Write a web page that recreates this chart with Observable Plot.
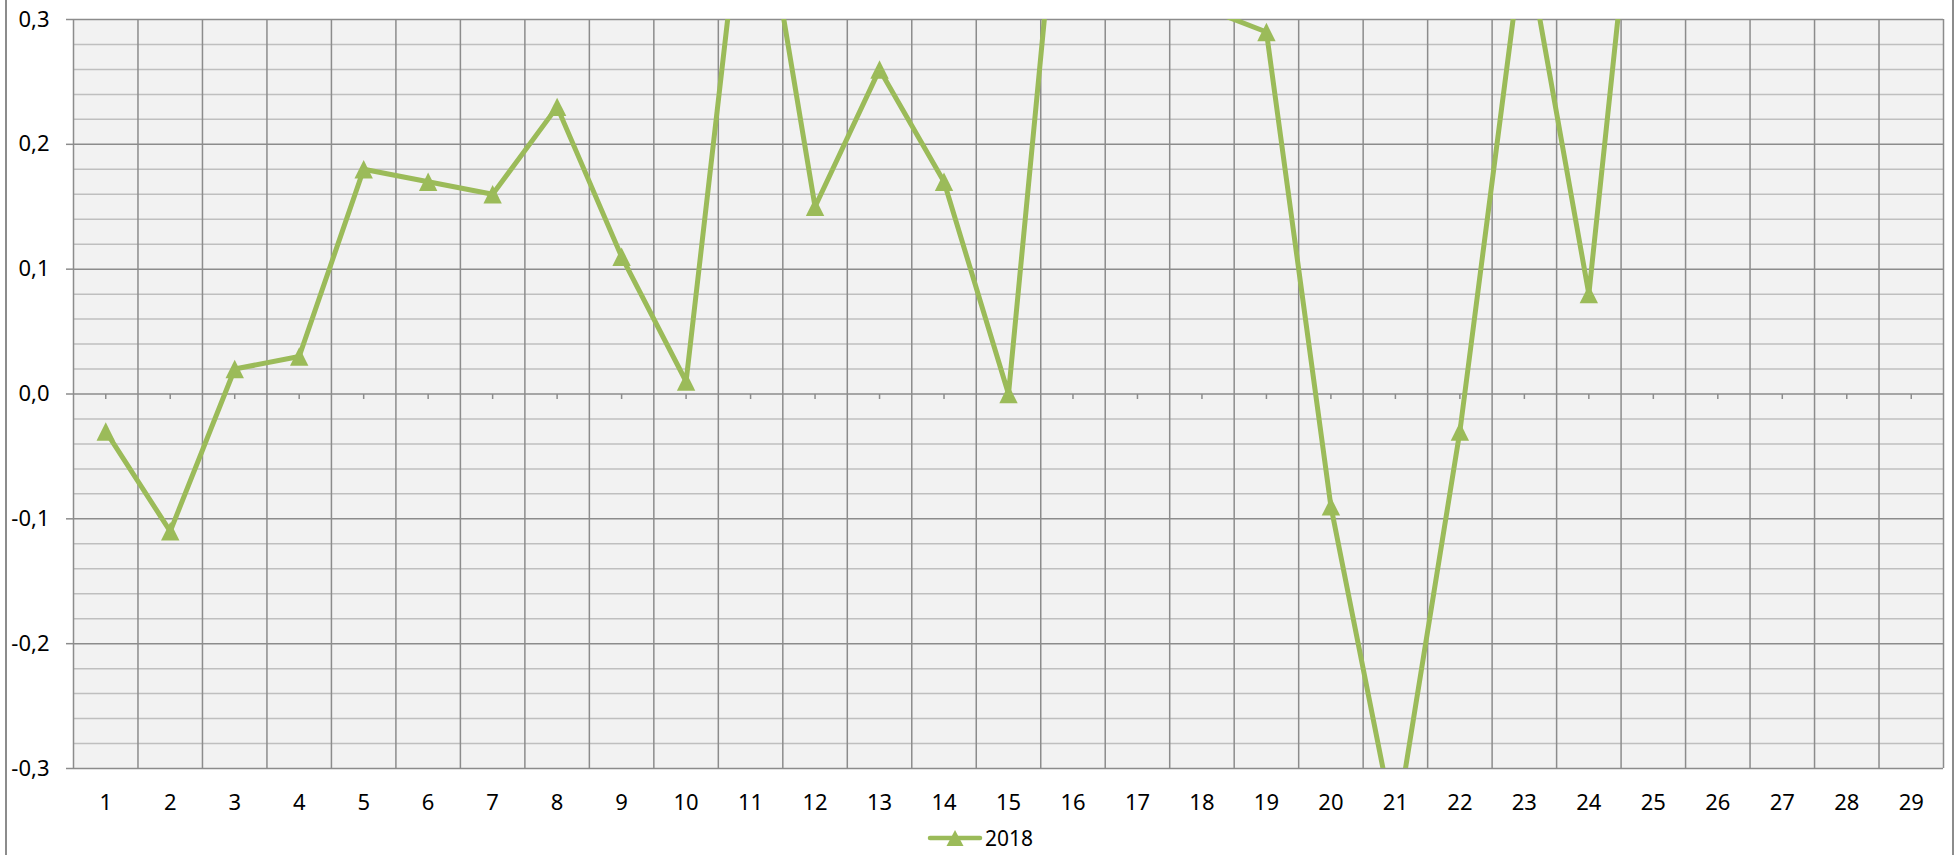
<!DOCTYPE html>
<html>
<head>
<meta charset="utf-8">
<script src="https://cdn.jsdelivr.net/npm/d3@7"></script>
<script src="https://cdn.jsdelivr.net/npm/@observablehq/plot@0.6"></script>
<style>
  html, body { margin: 0; padding: 0; background: #fff; }
  #wrap { position: relative; width: 1956px; height: 855px; overflow: hidden; font-family: "Noto Sans", sans-serif; }
  #chart { position: absolute; left: 0; top: 0; }
  .border { position: absolute; top: 0; width: 2px; height: 855px; background: #8c8c8c; }
  #legend { position: absolute; left: 0; top: 827px; width: 1956px; height: 22px; }
  #legend .item { position: absolute; left: 927px; top: 0; display: flex; align-items: center; height: 22px; }
  #legend span { font-size: 21px; color: #000; margin-left: 2px; line-height: 22px; }
</style>
</head>
<body>
<div id="wrap">
  <div id="chart"></div>
  <div class="border" style="left:5px"></div>
  <div class="border" style="left:1952px"></div>
  <div id="legend"></div>
</div>
<script>
// Categories (x axis) and series values
const categories = [1,2,3,4,5,6,7,8,9,10,11,12,13,14,15,16,17,18,19,20,21,22,23,24,25,26,27,28,29];
const values2018 = [-0.03,-0.11,0.02,0.03,0.18,0.17,0.16,0.23,0.11,0.01,0.46,0.15,0.26,0.17,0.00,0.54,0.45,0.31,0.29,-0.09,-0.35,-0.03,0.37,0.08,0.57,null,null,null,null];
const seriesName = "2018";
const yTicks = [-0.3,-0.2,-0.1,0,0.1,0.2,0.3];
const yMinorTicks = [-0.28,-0.26,-0.24,-0.22,-0.18,-0.16,-0.14,-0.12,-0.08,-0.06,-0.04,-0.02,0.02,0.04,0.06,0.08,0.12,0.14,0.16,0.18,0.22,0.24,0.26,0.28];
const categoryBounds = [0.5,1.5,2.5,3.5,4.5,5.5,6.5,7.5,8.5,9.5,10.5,11.5,12.5,13.5,14.5,15.5,16.5,17.5,18.5,19.5,20.5,21.5,22.5,23.5,24.5,25.5,26.5,27.5,28.5,29.5];

const green = "#9bbb59";
const data = categories.map((c, i) => ({day: c, value: values2018[i]}));
const pts = data.filter(d => d.value != null);
const fmt = d => d.toFixed(1).replace(".", ",");

// Isosceles triangle (as wide as tall), centred on its bounding box
const excelTriangle = {
  draw(context, size) {
    const h = Math.sqrt(size / Math.PI);
    context.moveTo(0, -h);
    context.lineTo(h, h);
    context.lineTo(-h, h);
    context.closePath();
  }
};
// small downward tick mark drawn at each category on the zero line
const tickDown = {
  draw(context) {
    context.moveTo(0, 0);
    context.lineTo(0, 5);
  }
};

const chart = Plot.plot({
  width: 1956,
  height: 820,
  marginTop: 19,
  marginBottom: 52,
  marginLeft: 73,
  marginRight: 13,
  style: {fontFamily: "Noto Sans, sans-serif", fontSize: "22px", color: "#000", background: "transparent"},
  x: {type: "linear", domain: [0.5, 29.5]},
  y: {domain: [-0.3, 0.3]},
  marks: [
    Plot.frame({fill: "#f2f2f2", stroke: null}),
    Plot.gridY(yMinorTicks, {stroke: "#bfbfbf", strokeOpacity: 1, strokeWidth: 1.5}),
    Plot.gridY(yTicks, {stroke: "#8c8c8c", strokeOpacity: 1, strokeWidth: 1.5}),
    Plot.gridX(categoryBounds, {stroke: "#8c8c8c", strokeOpacity: 1, strokeWidth: 1.5}),
    Plot.dot(categories, {x: d => d, y: () => 0, symbol: tickDown, r: 5, stroke: "#8c8c8c", strokeWidth: 1.5, fill: "none"}),
    Plot.axisY(yTicks, {tickSize: 7, tickPadding: 17, tickFormat: fmt, stroke: "#8c8c8c", strokeWidth: 1.5, fill: "#000", label: null}),
    Plot.axisX(categories, {tickSize: 0, tickPadding: 26, tickFormat: d => String(d), fill: "#000", label: null}),
    Plot.line(pts, {x: "day", y: "value", stroke: green, strokeWidth: 5, clip: true}),
    Plot.dot(pts, {x: "day", y: "value", symbol: excelTriangle, r: 9.2, fill: green, stroke: null, clip: true})
  ]
});
document.getElementById("chart").appendChild(chart);

// Legend
const legend = document.getElementById("legend");
legend.innerHTML = `<div class="item">
  <svg width="56" height="22"><line x1="3" y1="11" x2="53" y2="11" stroke="${green}" stroke-width="4.5" stroke-linecap="round"/>
  <path d="M28,3 L36.5,19 L19.5,19 Z" fill="${green}"/></svg>
  <span>${seriesName}</span></div>`;
</script>
</body>
</html>
